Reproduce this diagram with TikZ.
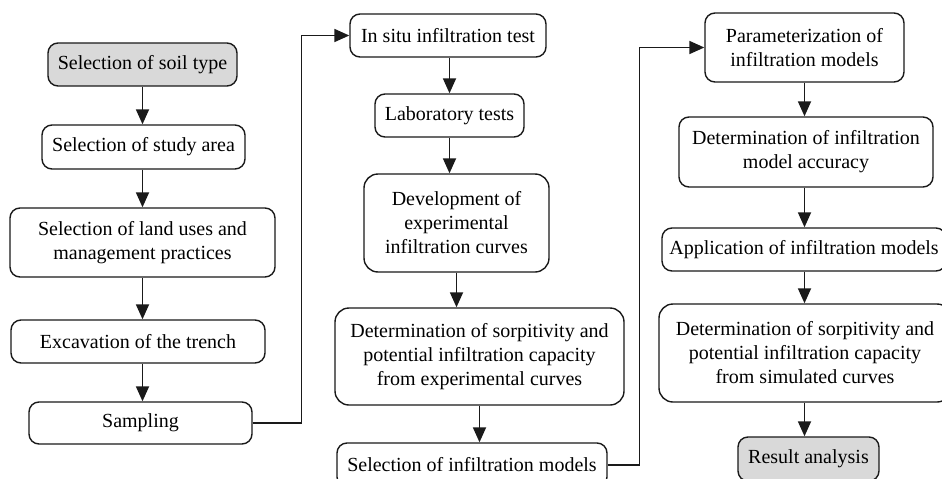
\documentclass[tikz,border=0pt]{standalone}
\usepackage{fontspec}
\setmainfont{Liberation Serif}
\usetikzlibrary{arrows.meta}
\definecolor{boxgray}{HTML}{D9D9D9}
\definecolor{linecol}{HTML}{1A1A1A}
\begin{document}
\begin{tikzpicture}[x=1pt,y=-1pt,
  box/.style={draw=linecol, line width=1.4pt, rounded corners=10pt, align=center,
    font=\fontsize{20}{24}\selectfont, inner sep=2pt, fill=white},
  graybox/.style={box, fill=boxgray},
  flow/.style={draw=linecol, line width=1.8pt, -{Triangle[width=13pt,length=15pt]}}
]
\path[use as bounding box, clip] (0,0) rectangle (942,479);
\fill[white] (0,0) rectangle (942,479);

% column 1
\node[graybox, minimum width=189pt, minimum height=43pt] (soil) at (142.5,64.5) {Selection of soil type};
\node[box, minimum width=203pt, minimum height=44pt] (study) at (143.5,147) {Selection of study area};
\node[box, minimum width=265pt, minimum height=69pt] (land) at (142.5,242.5) {Selection of land uses and\\management practices};
\node[box, minimum width=254pt, minimum height=43pt] (exc) at (138,341.5) {Excavation of the trench};
\node[box, minimum width=223pt, minimum height=42pt] (samp) at (140.5,423) {Sampling};

% column 2
\node[box, minimum width=196pt, minimum height=43pt] (insitu) at (448,35.5) {In situ infiltration test};
\node[box, minimum width=149pt, minimum height=43pt] (lab) at (449.5,115.5) {Laboratory tests};
\node[box, minimum width=185pt, minimum height=98pt, rounded corners=14pt] (dev) at (456.5,223) {Development of\\experimental\\infiltration curves};
\node[box, minimum width=289pt, minimum height=97pt, rounded corners=14pt] (sorpexp) at (479.5,356.5) {Determination of sorpitivity and\\potential infiltration capacity\\from experimental curves};
\node[box, minimum width=270pt, minimum height=44pt] (selmod) at (472,465) {Selection of infiltration models};

% column 3
\node[box, minimum width=199pt, minimum height=69pt] (param) at (804.5,47.5) {Parameterization of\\infiltration models};
\node[box, minimum width=254pt, minimum height=70pt] (acc) at (806,152) {Determination of infiltration\\model accuracy};
\node[box, minimum width=284pt, minimum height=43pt] (app) at (804,249.5) {Application of infiltration models};
\node[box, minimum width=292pt, minimum height=98pt, rounded corners=14pt] (sorpsim) at (805,353) {Determination of sorpitivity and\\potential infiltration capacity\\from simulated curves};
\node[graybox, minimum width=141pt, minimum height=44pt] (result) at (808.5,459) {Result analysis};

% arrow columns
\coordinate (c1) at (142.5,0);
\coordinate (c2) at (449.5,0);
\coordinate (c3) at (456.5,0);
\coordinate (c4) at (479.5,0);
\coordinate (c5) at (804.5,0);

% vertical arrows
\draw[flow] (c1 |- soil.south) -- (c1 |- study.north);
\draw[flow] (c1 |- study.south) -- (c1 |- land.north);
\draw[flow] (c1 |- land.south) -- (c1 |- exc.north);
\draw[flow] (c1 |- exc.south) -- (c1 |- samp.north);

\draw[flow] (c2 |- insitu.south) -- (c2 |- lab.north);
\draw[flow] (c2 |- lab.south) -- (c2 |- dev.north);
\draw[flow] (c3 |- dev.south) -- (c3 |- sorpexp.north);
\draw[flow] (c4 |- sorpexp.south) -- (c4 |- selmod.north);

\draw[flow] (c5 |- param.south) -- (c5 |- acc.north);
\draw[flow] (c5 |- acc.south) -- (c5 |- app.north);
\draw[flow] (c5 |- app.south) -- (c5 |- sorpsim.north);
\draw[flow] (c5 |- sorpsim.south) -- (c5 |- result.north);

% elbow connectors
\coordinate (e1) at (301.5,0);
\coordinate (e2) at (639.5,0);
\draw[flow] (samp.east) -- (samp.east -| e1) -- (e1 |- insitu.west) -- (insitu.west);
\draw[flow] (selmod.east) -- (selmod.east -| e2) -- (e2 |- param.west) -- (param.west);
\end{tikzpicture}
\end{document}
